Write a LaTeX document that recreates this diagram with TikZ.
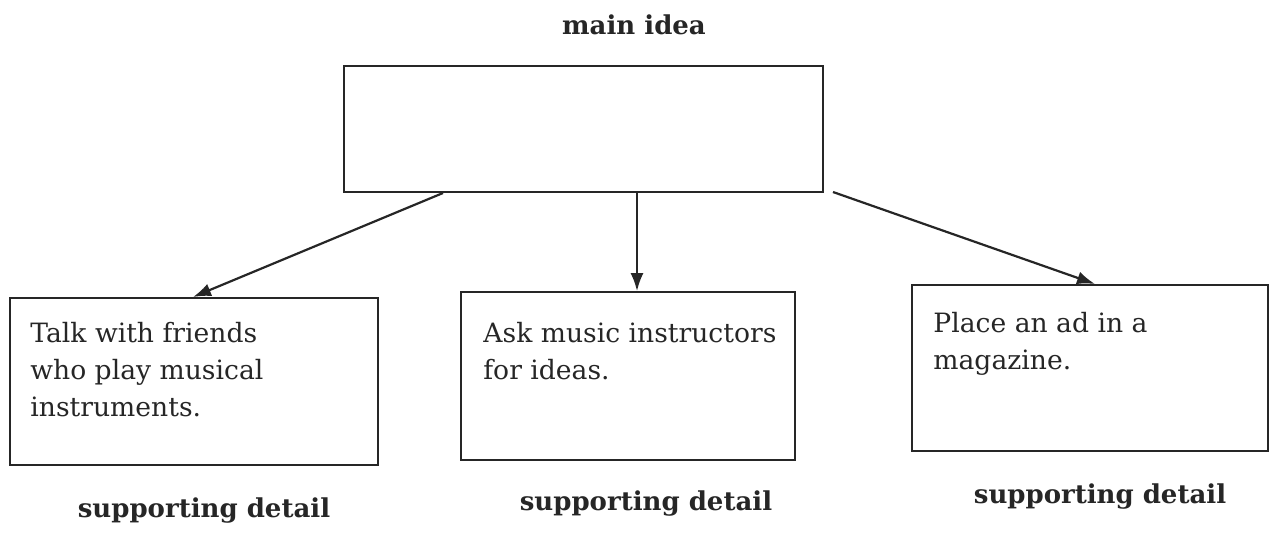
\documentclass[tikz,border=0pt]{standalone}
\usepackage{fontspec}
\setmainfont{DejaVu Serif}
\usetikzlibrary{arrows.meta}
\begin{document}
\begin{tikzpicture}[x=0.5pt,y=-0.5pt,
  box/.style={draw=black!85, line width=0.9pt, inner sep=0pt},
  txt/.style={anchor=base west, inner sep=0pt, text=black!85,
    font=\fontsize{13.3}{18.5}\selectfont},
  lbl/.style={anchor=base, inner sep=0pt, text=black!85,
    font=\fontsize{13}{16}\selectfont\bfseries},
  conn/.style={draw=black!85, line width=1.1pt, -{Latex[length=9pt,width=6.5pt]}}]
\useasboundingbox (0,0) rectangle (1275,535);
% boxes
\node[box, minimum width=239.5pt, minimum height=63pt] (main) at (583.5,129) {};
\node[box, minimum width=184pt, minimum height=83.5pt] (left) at (194,381.5) {};
\node[box, minimum width=167pt, minimum height=84pt] (mid) at (628,376) {};
\node[box, minimum width=178pt, minimum height=83pt] (right) at (1090,368) {};
% texts
\node[txt] (tl) at (30,342) {\parbox[t]{170pt}{\raggedright Talk with friends\\who play musical\\instruments.}};
\node[txt] (tm) at (483,342) {\parbox[t]{160pt}{\raggedright Ask music instructors\\for ideas.}};
\node[txt] (tr) at (933,332) {\parbox[t]{165pt}{\raggedright Place an ad in a\\magazine.}};
% labels
\node[lbl] (lmain) at (634,35) {main idea};
\node[lbl] (l1) at (204,517) {supporting detail};
\node[lbl] (l2) at (646,510) {supporting detail};
\node[lbl] (l3) at (1100,503) {supporting detail};
% connectors
\coordinate (s1) at (443,193);
\coordinate (s3) at (833,192);
\draw[conn] (s1) -- (193,297);
\draw[conn] (main.south -| 637,0) -- (mid.north -| 637,0);
\draw[conn] (s3) -- (1095,284);
\end{tikzpicture}
\end{document}
